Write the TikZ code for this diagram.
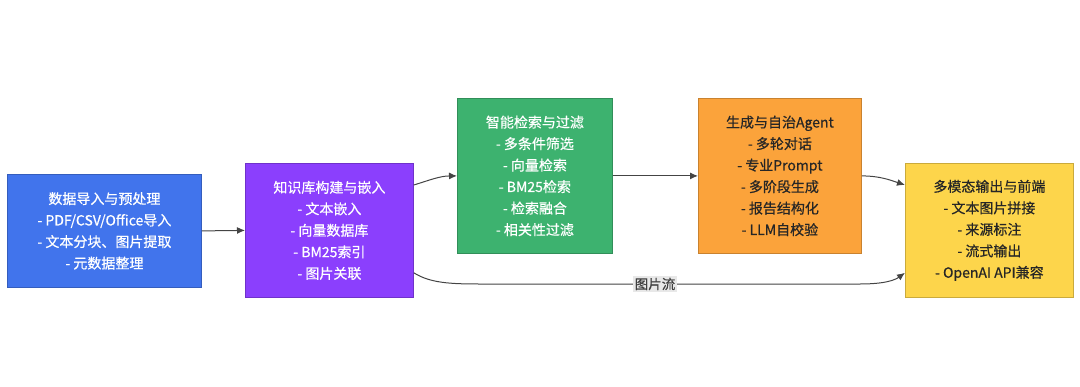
\documentclass[tikz,border=0pt]{standalone}
\usepackage{fontspec}
\setmainfont{Noto Sans CJK SC}[FakeBold=0.6]
\usetikzlibrary{arrows.meta}
\definecolor{cblue}{HTML}{4174EC}
\definecolor{cpurple}{HTML}{8B3FFD}
\definecolor{cgreen}{HTML}{3DB26F}
\definecolor{corange}{HTML}{FBA33B}
\definecolor{cyellow}{HTML}{FDD54B}
\definecolor{cline}{HTML}{444444}
\definecolor{clabel}{HTML}{E8E8E8}
\begin{document}
\begin{tikzpicture}[x=1pt,y=-1pt,
  box/.style={draw, line width=0.8pt, inner sep=0pt, align=center,
    font=\fontsize{14}{21.5}\selectfont, anchor=north west},
  conn/.style={draw=cline, line width=1pt, -{Latex[length=8pt,width=7pt]}},
]
\useasboundingbox (0,0) rectangle (1080,386);
\node[box, fill=cblue, draw=cblue!80!black, text=white, minimum width=194pt, minimum height=113pt] (n1) at (7,174)
 {数据导入与预处理\\- PDF/CSV/Office导入\\- 文本分块、图片提取\\- 元数据整理};
\node[box, fill=cpurple, draw=cpurple!80!black, text=white, minimum width=168pt, minimum height=134pt] (n2) at (245,163)
 {知识库构建与嵌入\\- 文本嵌入\\- 向量数据库\\- BM25索引\\- 图片关联};
\node[box, fill=cgreen, draw=cgreen!80!black, text=white, minimum width=155pt, minimum height=155pt] (n3) at (457,98)
 {智能检索与过滤\\- 多条件筛选\\- 向量检索\\- BM25检索\\- 检索融合\\- 相关性过滤};
\node[box, fill=corange, draw=corange!80!black, text=black!85, minimum width=163pt, minimum height=155pt] (n4) at (698,98)
 {生成与自治Agent\\- 多轮对话\\- 专业Prompt\\- 多阶段生成\\- 报告结构化\\- LLM自校验};
\node[box, fill=cyellow, draw=cyellow!80!black, text=black!85, minimum width=168pt, minimum height=134pt] (n5) at (905,163)
 {多模态输出与前端\\- 文本图片拼接\\- 来源标注\\- 流式输出\\- OpenAI API兼容};
\draw[conn] (n1.east) -- (n2.west);
\draw[conn] (n2.north east) ++(0,22) coordinate (a1) .. controls (430,180) and (440,176) .. (n3.west);
\draw[conn] (n3.east) -- (n4.west);
\draw[conn] (n4.east) .. controls (880,176) and (890,180) .. ([yshift=-22pt]n5.north west);
\coordinate (b1) at ([yshift=25pt]n2.south east);
\coordinate (b2) at ([yshift=25pt]n5.south west);
\draw[conn] (b1) .. controls (430,283) and (450,284) .. (480,284) -- (860,284) .. controls (885,284) and (895,280) .. (b2);
\node[fill=clabel, text=black!75, inner sep=1.5pt, font=\fontsize{13.5}{14}\selectfont] (lbl) at (655,284) {图片流};
\end{tikzpicture}
\end{document}
